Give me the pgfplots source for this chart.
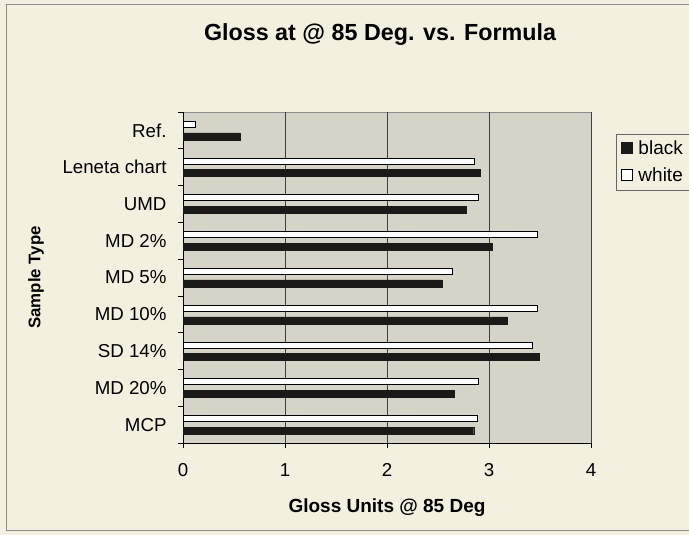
\documentclass[border=0pt]{standalone}
\usepackage{pgfplots}
\usepackage{pgfplotstable}
\pgfplotsset{compat=1.18}
\usepackage{fontspec}
\setmainfont{Liberation Sans}
\definecolor{bgcream}{RGB}{244,240,224}
\definecolor{plotgray}{RGB}{214,211,200}
\definecolor{barblack}{RGB}{28,26,24}

% idx: 0 = MCP (bottom) ... 8 = Ref. (top)
\pgfplotstableread{
idx black white
0 2.85 2.89
1 2.66 2.90
2 3.49 3.43
3 3.18 3.48
4 2.54 2.64
5 3.03 3.48
6 2.78 2.90
7 2.91 2.86
8 0.56 0.12
}\datatable

\begin{document}
\begin{tikzpicture}[x=1bp,y=1bp]
\useasboundingbox (0,0) rectangle (689,535);
\fill[bgcream] (0,0) rectangle (689,535);
\draw[black!45, line width=0.8bp] (6,5) rectangle (700,531);
\begin{axis}[
  at={(183bp,92bp)}, anchor=south west,
  scale only axis, width=408bp, height=331bp,
  xmin=0, xmax=4, ymin=-0.5, ymax=8.5,
  xbar,
  axis lines*=left,
  axis line style={-, black, line width=0.8bp},
  axis background/.style={fill=plotgray, draw=black!45, line width=0.6bp},
  xtick={0,1,2,3,4},
  xtick pos=bottom, ytick pos=left,
  tick align=outside,
  major tick length=5bp, minor tick length=5bp,
  ytick={0,...,8},
  yticklabels={MCP, MD 20\%, SD 14\%, MD 10\%, MD 5\%, MD 2\%, UMD, Leneta chart, Ref.},
  minor ytick={-0.5,0.5,...,8.5},
  major y tick style={draw=none},
  minor y tick style={black, line width=0.6bp},
  major x tick style={black, line width=0.6bp},
  xmajorgrids,
  major grid style={black!75, line width=0.6bp},
  /pgf/number format/assume math mode=true,
  tick label style={font=\fontsize{18.7bp}{22bp}\selectfont, text=black},
  yticklabel style={xshift=-8bp},
  xticklabel style={yshift=-12bp},
  title={Gloss at @ 85 Deg. vs. Formula},
  title style={at={(axis description cs:0.483,1.215)}, anchor=center, font=\fontsize{23.3bp}{27bp}\selectfont\bfseries},
  xlabel={Gloss Units @ 85 Deg},
  xlabel style={at={(axis description cs:0.5,-0.195)}, anchor=center, font=\fontsize{19bp}{22bp}\selectfont\bfseries},
  ylabel={Sample Type},
  ylabel style={at={(axis description cs:-0.36,0.5)}, anchor=center, rotate=0, font=\fontsize{16.8bp}{20bp}\selectfont\bfseries},
  legend style={at={(axis description cs:1.061,0.935)}, anchor=north west, draw=black!60, fill=bgcream, font=\fontsize{19bp}{22bp}\selectfont, row sep=8bp, inner xsep=5bp, inner ysep=5bp, cells={anchor=west}},
  legend image code/.code={\draw[#1, line width=0.8bp] (0bp,-5bp) rectangle (11bp,6bp); \path[draw=none, fill=none] (0bp,0bp) -- (15bp,0bp);},
]
\addplot[fill=barblack, draw=barblack, bar width=7bp, bar shift=-6bp] table[x=black, y=idx]{\datatable};
\addplot[fill=white, draw=black, line width=1bp, bar width=6bp, bar shift=6bp] table[x=white, y=idx]{\datatable};
\legend{black, white}
\end{axis}
\end{tikzpicture}
\end{document}
